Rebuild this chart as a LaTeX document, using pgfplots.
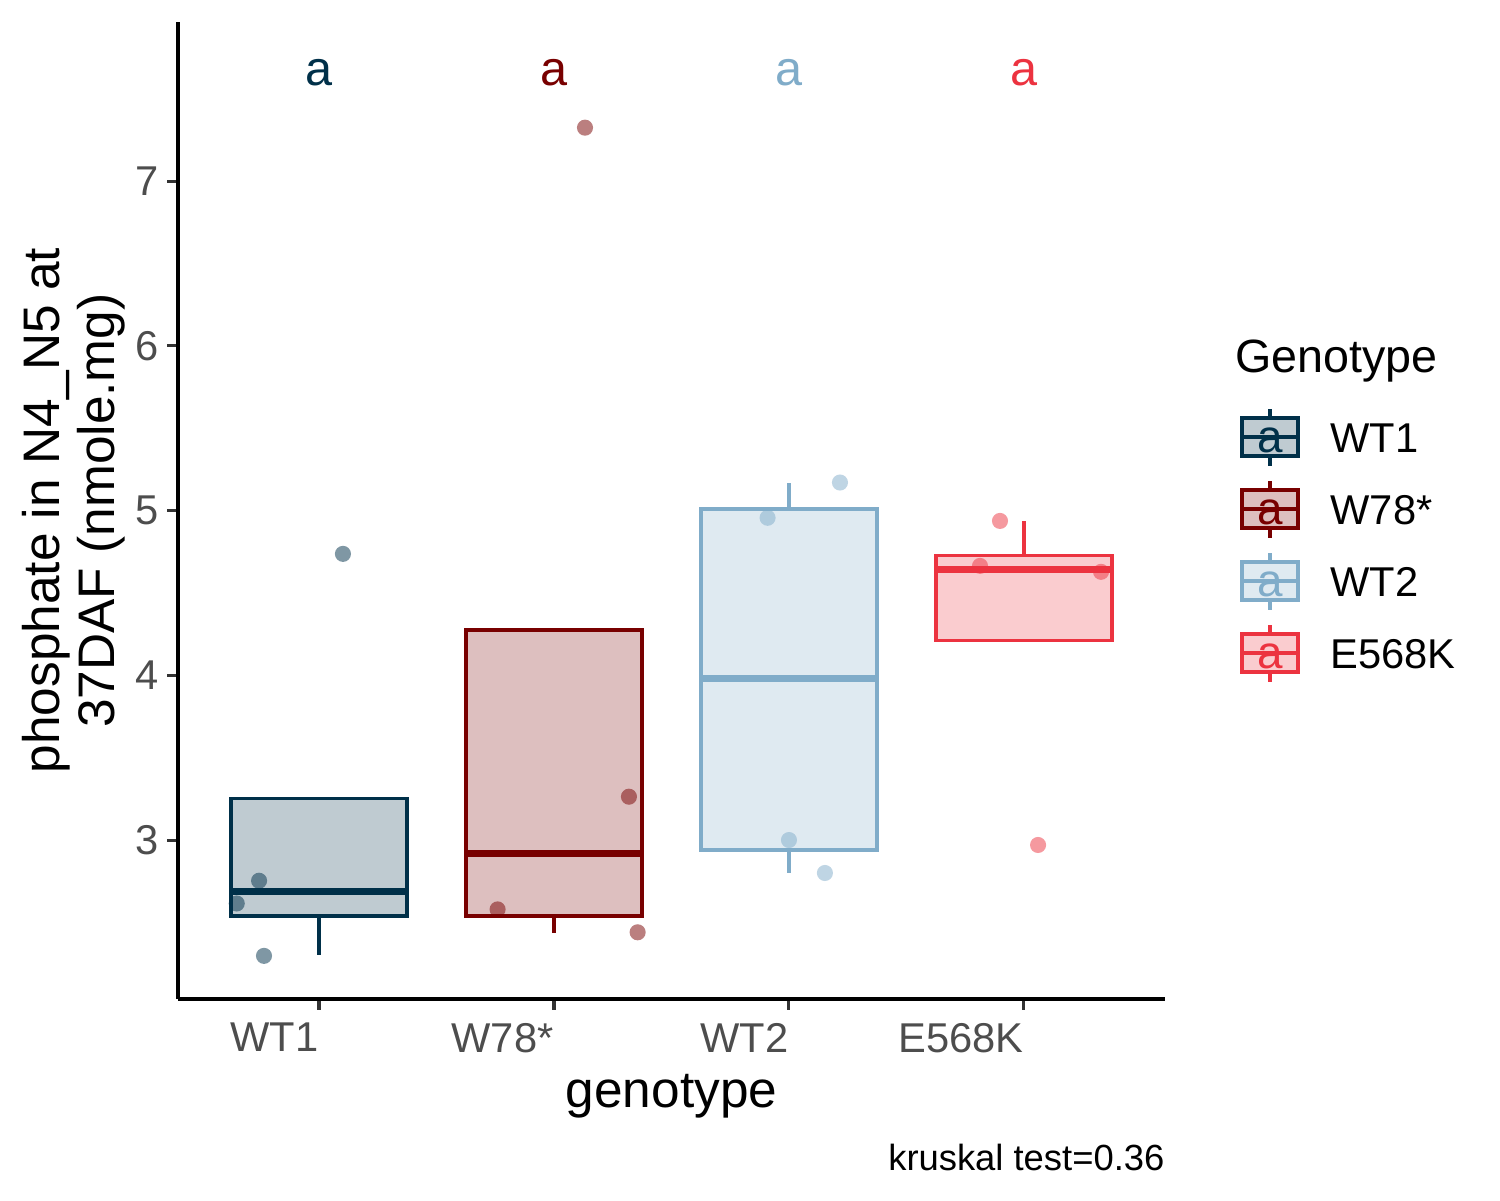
\documentclass[border=0pt]{standalone}
\usepackage{pgfplots}
\pgfplotsset{compat=1.18}
\usepgfplotslibrary{statistics}
\usepackage{fontspec}
\setmainfont{Liberation Sans}
\definecolor{c1}{HTML}{003049}
\definecolor{c2}{HTML}{780000}
\definecolor{c3}{HTML}{80ACC9}
\definecolor{c4}{HTML}{EC3340}
\definecolor{tickgray}{HTML}{4D4D4D}
\definecolor{tickmark}{HTML}{333333}
\newcommand{\fs}[1]{\fontsize{#1}{#1}\selectfont}
\begin{document}
\begin{tikzpicture}
\begin{axis}[
  at={(0pt,0pt)}, anchor=south west,
  scale only axis, width=355.3pt, height=351.7pt,
  xmin=0.4, xmax=4.6, ymin=2.035, ymax=7.965,
  axis x line*=bottom, axis y line*=left,
  axis line style={line width=1.1pt, black, -},
  xtick={1,2,3,4}, xticklabels={WT1,W78*,WT2,E568K},
  ytick={3,4,5,6,7},
  tick align=outside, major tick length=3.8pt,
  tick style={line width=1.1pt, color=tickmark},
  /pgf/number format/assume math mode=true,
  xticklabel style={anchor=north east, inner sep=0pt, yshift=-4.6pt, font=\fs{15}, text=tickgray},
  yticklabel style={anchor=east, inner sep=0pt, xshift=-3pt, font=\fs{15}, text=tickgray},
  xlabel={genotype},
  xlabel style={at={(axis description cs:0.5,0)}, anchor=base, yshift=-38.9pt, inner sep=0pt, font=\fs{18.5}},
  ylabel={phosphate in N4\_N5 at\\37DAF (nmole.mg)},
  ylabel style={at={(axis description cs:-0.0532,0.5)}, anchor=south, rotate=0, align=center, inner sep=0pt, font=\fontsize{18.5}{19.8}\selectfont},
  boxplot/draw direction=y,
  clip=false,
]
% jittered points (drawn first, under the boxes)
\addplot[only marks, mark=*, mark size=2.9pt, color=c1, fill opacity=0.5, draw opacity=0]
  coordinates {(0.650,2.615) (0.745,2.753) (0.766,2.297) (1.102,4.737)};
\addplot[only marks, mark=*, mark size=2.9pt, color=c2, fill opacity=0.5, draw opacity=0]
  coordinates {(1.760,2.579) (2.319,3.263) (2.356,2.440) (2.132,7.324)};
\addplot[only marks, mark=*, mark size=2.9pt, color=c3, fill opacity=0.5, draw opacity=0]
  coordinates {(2.909,4.956) (3.217,5.170) (3.000,3.000) (3.153,2.800)};
\addplot[only marks, mark=*, mark size=2.9pt, color=c4, fill opacity=0.5, draw opacity=0]
  coordinates {(3.898,4.937) (3.813,4.664) (4.328,4.628) (4.060,2.970)};
% boxes
\addplot[boxplot prepared={lower whisker=2.302, lower quartile=2.539, median=2.686, upper quartile=3.253, upper whisker=3.253, draw position=1, box extend=0.75, whisker extend=0},
  draw=c1, fill=c1, fill opacity=0.25, line width=1.2pt, boxplot/every median/.style={line width=2.5pt}] coordinates {};
\addplot[boxplot prepared={lower whisker=2.436, lower quartile=2.539, median=2.919, upper quartile=4.275, upper whisker=4.275, draw position=2, box extend=0.75, whisker extend=0},
  draw=c2, fill=c2, fill opacity=0.25, line width=1.2pt, boxplot/every median/.style={line width=2.5pt}] coordinates {};
\addplot[boxplot prepared={lower whisker=2.800, lower quartile=2.939, median=3.978, upper quartile=5.010, upper whisker=5.167, draw position=3, box extend=0.75, whisker extend=0},
  draw=c3, fill=c3, fill opacity=0.25, line width=1.2pt, boxplot/every median/.style={line width=2.5pt}] coordinates {};
\addplot[boxplot prepared={lower whisker=4.211, lower quartile=4.211, median=4.640, upper quartile=4.728, upper whisker=4.934, draw position=4, box extend=0.75, whisker extend=0},
  draw=c4, fill=c4, fill opacity=0.25, line width=1.2pt, boxplot/every median/.style={line width=2.5pt}] coordinates {};
% group letters
\node[text=c1, font=\fs{17.5}, anchor=base, inner sep=0pt] at (axis cs:1,7.583) {a};
\node[text=c2, font=\fs{17.5}, anchor=base, inner sep=0pt] at (axis cs:2,7.583) {a};
\node[text=c3, font=\fs{17.5}, anchor=base, inner sep=0pt] at (axis cs:3,7.583) {a};
\node[text=c4, font=\fs{17.5}, anchor=base, inner sep=0pt] at (axis cs:4,7.583) {a};
\end{axis}
% caption
\node[anchor=base east, inner sep=0pt, font=\fs{13.1}] at (355.3pt,-61.6pt) {kruskal test=0.36};
% legend
\node[anchor=base west, inner sep=0pt, font=\fs{16.8}] at (380.5pt,225.4pt) {Genotype};
\foreach \c/\lab/\y in {c1/WT1/202.32, c2/W78*/176.4, c3/WT2/150.48, c4/E568K/124.56}{
  \draw[\c, line width=1.2pt] (393.12pt,\y pt+6.84pt) -- (393.12pt,\y pt+10.26pt);
  \draw[\c, line width=1.2pt] (393.12pt,\y pt-6.84pt) -- (393.12pt,\y pt-10.26pt);
  \draw[\c, fill=\c, fill opacity=0.25, line width=1.2pt] (383.04pt,\y pt-6.84pt) rectangle (403.2pt,\y pt+6.84pt);
  \draw[\c, line width=1.2pt] (383.04pt,\y pt) -- (403.2pt,\y pt);
  \node[text=\c, font=\fs{16.5}, anchor=base, inner sep=0pt] at (393.12pt,\y pt-5.7pt) {a};
  \node[anchor=base west, inner sep=0pt, font=\fs{15}] at (414.7pt,\y pt-5.5pt) {\lab};
}
\pgfresetboundingbox
\path[use as bounding box] (-64.08pt,-72.36pt) rectangle (475.92pt,359.64pt);
\end{tikzpicture}
\end{document}
